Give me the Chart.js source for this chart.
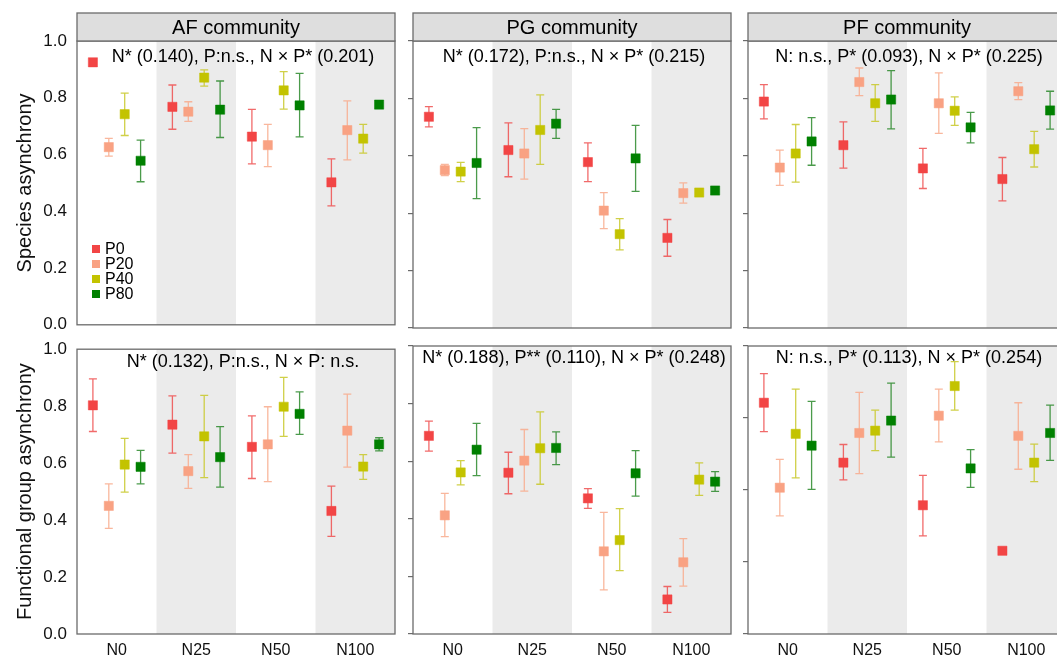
<!DOCTYPE html>
<html>
<head>
<meta charset="utf-8">
<script src="https://cdn.jsdelivr.net/npm/chart.js@4.4.0/dist/chart.umd.min.js"></script>
<style>
    html, body { margin: 0; padding: 0; background: #fff; width: 1057px; height: 656px; overflow: hidden; }
    .box { position: absolute; }
</style>
</head>
<body>
<div class="box" style="left:0px;top:0px;width:402px;height:340px"><canvas id="c0"></canvas></div>
<div class="box" style="left:400px;top:0px;width:338px;height:340px"><canvas id="c1"></canvas></div>
<div class="box" style="left:735px;top:0px;width:338px;height:340px"><canvas id="c2"></canvas></div>
<div class="box" style="left:0px;top:334px;width:402px;height:322px"><canvas id="c3"></canvas></div>
<div class="box" style="left:400px;top:334px;width:338px;height:322px"><canvas id="c4"></canvas></div>
<div class="box" style="left:735px;top:334px;width:338px;height:322px"><canvas id="c5"></canvas></div>
<script>
const groups = ['N0', 'N25', 'N50', 'N100'];
const seriesNames = ['P0', 'P20', 'P40', 'P80'];
const communities = ['AF community', 'PG community', 'PF community'];
const speciesNotes = ['N* (0.140), P:n.s., N × P* (0.201)', 'N* (0.172), P:n.s., N × P* (0.215)', 'N: n.s., P* (0.093), N × P* (0.225)'];
const groupNotes = ['N* (0.132), P:n.s., N × P: n.s.', 'N* (0.188), P** (0.110), N × P* (0.248)', 'N: n.s., P* (0.113), N × P* (0.254)'];

// rows = P0, P20, P40, P80 ; columns = N0, N25, N50, N100
const afSpMean = [[0.925, 0.768, 0.663, 0.502], [0.626, 0.751, 0.633, 0.686], [0.742, 0.871, 0.826, 0.656], [0.578, 0.758, 0.773, 0.776]];
const afSpLow  = [[0.915, 0.689, 0.567, 0.419], [0.594, 0.717, 0.557, 0.581], [0.667, 0.841, 0.760, 0.605], [0.504, 0.660, 0.662, 0.770]];
const afSpHigh = [[0.937, 0.845, 0.759, 0.585], [0.657, 0.786, 0.706, 0.789], [0.816, 0.898, 0.892, 0.706], [0.651, 0.859, 0.886, 0.782]];

const pgSpMean = [[0.736, 0.620, 0.578, 0.314], [0.550, 0.608, 0.409, 0.470], [0.545, 0.690, 0.327, 0.472], [0.575, 0.712, 0.591, 0.479]];
const pgSpLow  = [[0.701, 0.527, 0.510, 0.250], [0.531, 0.519, 0.346, 0.435], [0.510, 0.570, 0.272, 0.467], [0.451, 0.661, 0.476, 0.474]];
const pgSpHigh = [[0.771, 0.715, 0.645, 0.378], [0.570, 0.695, 0.472, 0.506], [0.577, 0.812, 0.381, 0.477], [0.698, 0.762, 0.706, 0.484]];

const pfSpMean = [[0.789, 0.637, 0.556, 0.519], [0.559, 0.857, 0.783, 0.825], [0.608, 0.783, 0.757, 0.623], [0.650, 0.796, 0.699, 0.758]];
const pfSpLow  = [[0.729, 0.557, 0.486, 0.443], [0.497, 0.810, 0.678, 0.796], [0.508, 0.720, 0.706, 0.561], [0.567, 0.694, 0.645, 0.693]];
const pfSpHigh = [[0.848, 0.718, 0.626, 0.594], [0.620, 0.906, 0.889, 0.855], [0.709, 0.848, 0.805, 0.685], [0.733, 0.897, 0.751, 0.825]];

const afFgMean = [[0.803, 0.735, 0.657, 0.432], [0.450, 0.572, 0.666, 0.714], [0.595, 0.694, 0.798, 0.588], [0.587, 0.621, 0.773, 0.666]];
const afFgLow  = [[0.711, 0.635, 0.546, 0.343], [0.371, 0.511, 0.535, 0.586], [0.498, 0.549, 0.694, 0.543], [0.527, 0.516, 0.701, 0.643]];
const afFgHigh = [[0.896, 0.836, 0.766, 0.519], [0.527, 0.630, 0.798, 0.842], [0.687, 0.838, 0.901, 0.630], [0.645, 0.728, 0.850, 0.689]];

const pgFgMean = [[0.688, 0.560, 0.471, 0.120], [0.412, 0.602, 0.287, 0.249], [0.561, 0.645, 0.326, 0.536], [0.640, 0.646, 0.558, 0.529]];
const pgFgLow  = [[0.635, 0.487, 0.436, 0.075], [0.338, 0.496, 0.153, 0.166], [0.518, 0.520, 0.220, 0.481], [0.550, 0.588, 0.479, 0.495]];
const pgFgHigh = [[0.739, 0.631, 0.505, 0.165], [0.488, 0.710, 0.422, 0.331], [0.602, 0.771, 0.435, 0.594], [0.731, 0.702, 0.637, 0.564]];

const pfFgMean = [[0.803, 0.595, 0.447, 0.289], [0.508, 0.698, 0.758, 0.688], [0.695, 0.706, 0.861, 0.595], [0.654, 0.741, 0.575, 0.698]];
const pfFgLow  = [[0.703, 0.535, 0.341, 0.281], [0.410, 0.557, 0.667, 0.572], [0.542, 0.637, 0.777, 0.529], [0.502, 0.614, 0.509, 0.603]];
const pfFgHigh = [[0.904, 0.658, 0.551, 0.297], [0.606, 0.839, 0.850, 0.803], [0.850, 0.777, 0.946, 0.659], [0.808, 0.871, 0.640, 0.795]];

const FONT = "'Liberation Sans', Arial, sans-serif";
const pointColors = ['#f24545', '#f9a283', '#c3c300', '#008000'];
const barColors = ['rgba(238,80,80,0.85)', 'rgba(248,170,140,0.85)', 'rgba(200,200,40,0.85)', 'rgba(30,130,30,0.8)'];
const shadedGroups = [1, 3];

Chart.defaults.font.family = FONT;
Chart.defaults.color = '#000';

const panelPlugin = {
    id: 'panel',
    beforeDatasetsDraw(chart, args, opts) {
        const { ctx, chartArea: a, scales: { x, y } } = chart;
        ctx.save();
        // shaded N25 / N100 columns
        ctx.fillStyle = '#ebebeb';
        shadedGroups.forEach(g => {
            const l = x.getPixelForValue(g), r = x.getPixelForValue(g + 1);
            ctx.fillRect(l, a.top, r - l, a.bottom - a.top);
        });
        // statistics note
        ctx.fillStyle = '#000';
        ctx.font = '18px ' + FONT;
        ctx.textAlign = 'center';
        ctx.textBaseline = 'middle';
        ctx.fillText(opts.note, (a.left + a.right) / 2 + opts.noteShift, a.top + opts.noteY);
        // error bars
        ctx.lineWidth = 1.3;
        chart.data.datasets.forEach((ds, i) => {
            ctx.strokeStyle = barColors[i];
            ds.data.forEach(p => {
                const px = x.getPixelForValue(p.x);
                const y1 = y.getPixelForValue(p.lo), y2 = y.getPixelForValue(p.hi);
                ctx.beginPath();
                ctx.moveTo(px, y1); ctx.lineTo(px, y2);
                ctx.moveTo(px - 4, y1); ctx.lineTo(px + 4, y1);
                ctx.moveTo(px - 4, y2); ctx.lineTo(px + 4, y2);
                ctx.stroke();
            });
        });
        ctx.restore();
    },
    afterDraw(chart, args, opts) {
        const { ctx, chartArea: a } = chart;
        ctx.save();
        ctx.strokeStyle = '#6b6b6b';
        ctx.lineWidth = 1.3;
        ctx.strokeRect(a.left, a.top, a.right - a.left, a.bottom - a.top);
        if (opts.title) {
            ctx.fillStyle = '#dedede';
            ctx.fillRect(a.left, 13, a.right - a.left, a.top - 13);
            ctx.strokeRect(a.left, 13, a.right - a.left, a.top - 13);
            ctx.fillStyle = '#000';
            ctx.font = '20px ' + FONT;
            ctx.textAlign = 'center';
            ctx.textBaseline = 'middle';
            ctx.fillText(opts.title, (a.left + a.right) / 2, (13 + a.top) / 2 + 1);
        }
        if (opts.legend) {
            ctx.font = '16px ' + FONT;
            ctx.textAlign = 'left';
            ctx.textBaseline = 'middle';
            chart.data.datasets.forEach((ds, i) => {
                const cy = a.top + 208 + i * 15;
                ctx.fillStyle = pointColors[i];
                ctx.fillRect(a.left + 15, cy - 4, 8, 8);
                ctx.fillStyle = '#000';
                ctx.fillText(ds.label, a.left + 28, cy + 1);
            });
        }
        ctx.restore();
    }
};

function makePanel(id, cfg) {
    const datasets = seriesNames.map((name, i) => ({
        label: name,
        data: groups.map((g, j) => ({ x: j + (i + 1) / 5, y: cfg.mean[i][j], lo: cfg.low[i][j], hi: cfg.high[i][j] })),
        pointStyle: 'rect',
        pointRadius: 6.5,
        backgroundColor: pointColors[i],
        borderColor: pointColors[i],
        borderWidth: 0.5,
        showLine: false
    }));
    const first = cfg.col === 0;
    new Chart(document.getElementById(id), {
        type: 'scatter',
        data: { datasets },
        plugins: [panelPlugin],
        options: {
            responsive: true,
            maintainAspectRatio: false,
            animation: false,
            events: [],
            layout: { padding: cfg.top ? { top: 41, bottom: 12, left: 0, right: 4 } : { top: 12, bottom: 0, left: 0, right: 4 } },
            plugins: {
                legend: { display: false },
                tooltip: { enabled: false },
                panel: {
                    note: cfg.note,
                    noteShift: first ? 7 : 2,
                    noteY: cfg.top ? 16.5 : 12.5,
                    title: cfg.top ? communities[cfg.col] : null,
                    legend: cfg.top && first
                }
            },
            scales: {
                x: {
                    type: 'linear',
                    min: 0,
                    max: 4,
                    display: !cfg.top,
                    afterBuildTicks: s => { s.ticks = groups.map((g, j) => ({ value: j + 0.5 })); },
                    afterFit: s => { s.height = cfg.top ? 0 : 22; },
                    grid: { display: false, drawTicks: false },
                    border: { display: false },
                    ticks: { callback: (v, idx) => groups[idx], font: { size: 16 }, color: '#111', padding: 7, maxRotation: 0 }
                },
                y: {
                    min: 0,
                    max: 1,
                    afterFit: s => { s.width = first ? 77 : 13; },
                    grid: { display: !first, drawOnChartArea: false, drawTicks: true, tickLength: 5, color: '#6b6b6b', lineWidth: 1.2 },
                    border: { display: false },
                    ticks: {
                        display: first,
                        stepSize: cfg.step,
                        callback: v => v.toFixed(1),
                        font: { size: 17 },
                        color: '#111',
                        padding: 5
                    },
                    title: {
                        display: first,
                        text: cfg.top ? 'Species asynchrony' : 'Functional group asynchrony',
                        font: { size: 20 },
                        color: '#111',
                        padding: { top: 13, bottom: 0 }
                    }
                }
            }
        }
    });
}

makePanel('c0', { col: 0, top: true, note: speciesNotes[0], mean: afSpMean, low: afSpLow, high: afSpHigh, step: 0.2 });
makePanel('c1', { col: 1, top: true, note: speciesNotes[1], mean: pgSpMean, low: pgSpLow, high: pgSpHigh, step: 0.2 });
makePanel('c2', { col: 2, top: true, note: speciesNotes[2], mean: pfSpMean, low: pfSpLow, high: pfSpHigh, step: 0.2 });
makePanel('c3', { col: 0, top: false, note: groupNotes[0], mean: afFgMean, low: afFgLow, high: afFgHigh, step: 0.2 });
makePanel('c4', { col: 1, top: false, note: groupNotes[1], mean: pgFgMean, low: pgFgLow, high: pgFgHigh, step: 0.2 });
makePanel('c5', { col: 2, top: false, note: groupNotes[2], mean: pfFgMean, low: pfFgLow, high: pfFgHigh, step: 0.25 });
</script>
</body>
</html>
